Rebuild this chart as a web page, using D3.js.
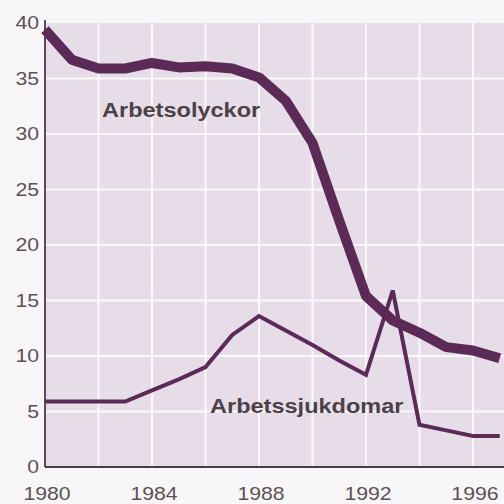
<!DOCTYPE html>
<html>
<head>
<meta charset="utf-8">
<script src="https://cdn.jsdelivr.net/npm/d3@7"></script>
<style>
  body { margin: 0; background: #f9f6f9; }
  svg { display: block; }
</style>
</head>
<body>
<svg id="chart" width="504" height="504"></svg>
<script>
// years shown on the x axis
const years = [1980, 1981, 1982, 1983, 1984, 1985, 1986, 1987, 1988, 1989, 1990, 1991, 1992, 1993, 1994, 1995, 1996, 1997]
// Arbetsolyckor (thick line)
const olyckor = [39.4, 36.7, 35.9, 35.9, 36.4, 36.0, 36.1, 35.9, 35.1, 33.0, 29.2, 22.2, 15.4, 13.2, 12.1, 10.8, 10.5, 9.8]
// Arbetssjukdomar (thin line)
const sjukdomar = [5.9, 5.9, 5.9, 5.9, 6.9, 7.9, 9.0, 11.9, 13.6, 12.3, 11.0, 9.6, 8.3, 15.9, 3.8, 3.3, 2.8, 2.8]
const xTicks = [1980, 1984, 1988, 1992, 1996]
const yTicks = [0, 5, 10, 15, 20, 25, 30, 35, 40]
const xGrid = [1982, 1984, 1986, 1988, 1990, 1992, 1994, 1996]
const yGrid = [5, 10, 15, 20, 25, 30, 35]

const svg = d3.select("#chart")
const x = d3.scaleLinear().domain([1980, 1997.16]).range([45, 504])
const y = d3.scaleLinear().domain([0, 40]).range([467, 23])

// the print is a bit wide, so text is stretched sideways
const sx = 1.18

// plot background
svg.append("rect")
  .attr("x", x(1980)).attr("y", y(40))
  .attr("width", 504 - x(1980)).attr("height", y(0) - y(40))
  .attr("fill", "#e7dde8")

// white grid
svg.append("g").selectAll("line")
  .data(xGrid)
  .join("line")
  .attr("x1", d => x(d)).attr("x2", d => x(d))
  .attr("y1", y(40)).attr("y2", y(0))
  .attr("stroke", "#fbf8fb").attr("stroke-width", 2)
svg.append("g").selectAll("line")
  .data(yGrid)
  .join("line")
  .attr("x1", x(1980)).attr("x2", 504)
  .attr("y1", d => y(d)).attr("y2", d => y(d))
  .attr("stroke", "#fbf8fb").attr("stroke-width", 2)

// axes lines
svg.append("line")
  .attr("x1", x(1980)).attr("x2", x(1980))
  .attr("y1", y(40) - 3).attr("y2", y(0))
  .attr("stroke", "#4a3c47").attr("stroke-width", 1.8)
svg.append("line")
  .attr("x1", x(1980)).attr("x2", 504)
  .attr("y1", y(0)).attr("y2", y(0))
  .attr("stroke", "#4a3c47").attr("stroke-width", 1.8)

// tick labels
svg.append("g").selectAll("text")
  .data(yTicks)
  .join("text")
  .attr("transform", d => `translate(39,${y(d)}) scale(${sx},1)`)
  .attr("dy", "0.36em")
  .attr("text-anchor", "end")
  .attr("font-family", "Liberation Sans")
  .attr("font-size", 18)
  .attr("fill", "#5b5257")
  .text(d => d)
svg.append("g").selectAll("text")
  .data(xTicks)
  .join("text")
  .attr("transform", d => `translate(${x(d) + 2},500) scale(${sx},1)`)
  .attr("text-anchor", "middle")
  .attr("font-family", "Liberation Sans")
  .attr("font-size", 18)
  .attr("fill", "#5b5257")
  .text(d => d)

// lines
const line = d3.line()
  .x(d => x(d[0]))
  .y(d => y(d[1]))

svg.append("path")
  .datum(years.map((yr, i) => [yr, olyckor[i]]))
  .attr("d", line)
  .attr("fill", "none")
  .attr("stroke", "#5c2a57")
  .attr("stroke-width", 10)
  .attr("stroke-linejoin", "round")

svg.append("path")
  .datum(years.map((yr, i) => [yr, sjukdomar[i]]))
  .attr("d", line)
  .attr("fill", "none")
  .attr("stroke", "#5c2a57")
  .attr("stroke-width", 4)
  .attr("stroke-linejoin", "miter")

// series labels
svg.append("text")
  .attr("transform", `translate(102,117) scale(${sx * 0.95},1)`)
  .attr("font-family", "Liberation Sans")
  .attr("font-weight", "bold")
  .attr("font-size", 21)
  .attr("fill", "#4a4247")
  .text("Arbetsolyckor")
svg.append("text")
  .attr("transform", `translate(210,413) scale(${sx * 0.95},1)`)
  .attr("font-family", "Liberation Sans")
  .attr("font-weight", "bold")
  .attr("font-size", 21)
  .attr("fill", "#4a4247")
  .text("Arbetssjukdomar")
</script>
</body>
</html>
